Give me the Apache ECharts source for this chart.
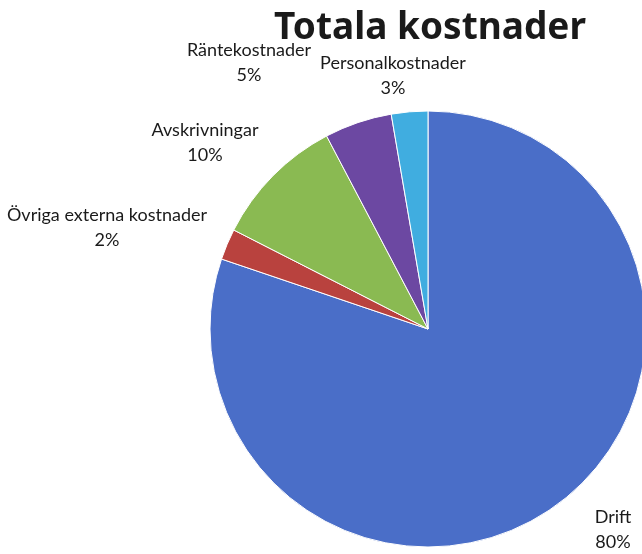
<!DOCTYPE html>
<html lang="sv">
<head>
    <meta charset="UTF-8">
    <title>Totala kostnader</title>
    <script type="text/javascript" src="https://cdn.jsdelivr.net/npm/echarts@6/dist/echarts.min.js"></script>
    <style>
        html, body { margin: 0; padding: 0; background: #fff; }
        #pie { width: 642px; height: 554px; }
    </style>
</head>
<body>
<div id="pie"></div>
<script type="text/javascript">
    var categories = ['Drift', 'Övriga externa kostnader', 'Avskrivningar', 'Räntekostnader', 'Personalkostnader'];
    var values = [80.2, 2.3, 9.8, 5.0, 2.7];
    var colors = ['#4a6ec8', '#b9423e', '#8aba52', '#6c48a2', '#40ade0'];
    // label centres (px), same order as categories
    var labelPos = [[613, 530], [107, 228], [205, 143], [249, 63], [393, 76]];

    var mychart = echarts.init(document.getElementById('pie'));
    var seriesData = [];
    for (var i = 0; i < categories.length; i++) {
        seriesData.push({value: values[i], name: categories[i], itemStyle: {color: colors[i]}});
    }
    var option = {
        backgroundColor: '#ffffff',
        animation: false,
        title: {
            text: 'Totala kostnader',
            left: 425,
            top: 5,
            textAlign: 'center',
            textStyle: {
                fontFamily: 'Noto Sans',
                fontWeight: 'bold',
                fontSize: 37,
                color: '#1a1a1a'
            }
        },
        series: [{
            type: 'pie',
            center: [428, 329],
            radius: 218,
            startAngle: 90,
            clockwise: true,
            percentPrecision: 0,
            itemStyle: {borderColor: '#ffffff', borderWidth: 1},
            label: {
                show: true,
                position: 'outside',
                formatter: '{b}\n{d}%',
                fontFamily: 'Lato',
                fontSize: 18,
                lineHeight: 25,
                color: '#1a1a1a',
                align: 'center',
                overflow: 'none',
                width: 260
            },
            labelLine: {show: false},
            labelLayout: function (params) {
                var p = labelPos[params.dataIndex];
                return {x: p[0], y: p[1], align: 'center', verticalAlign: 'middle'};
            },
            data: seriesData
        }]
    };
    mychart.setOption(option);
</script>
</body>
</html>
